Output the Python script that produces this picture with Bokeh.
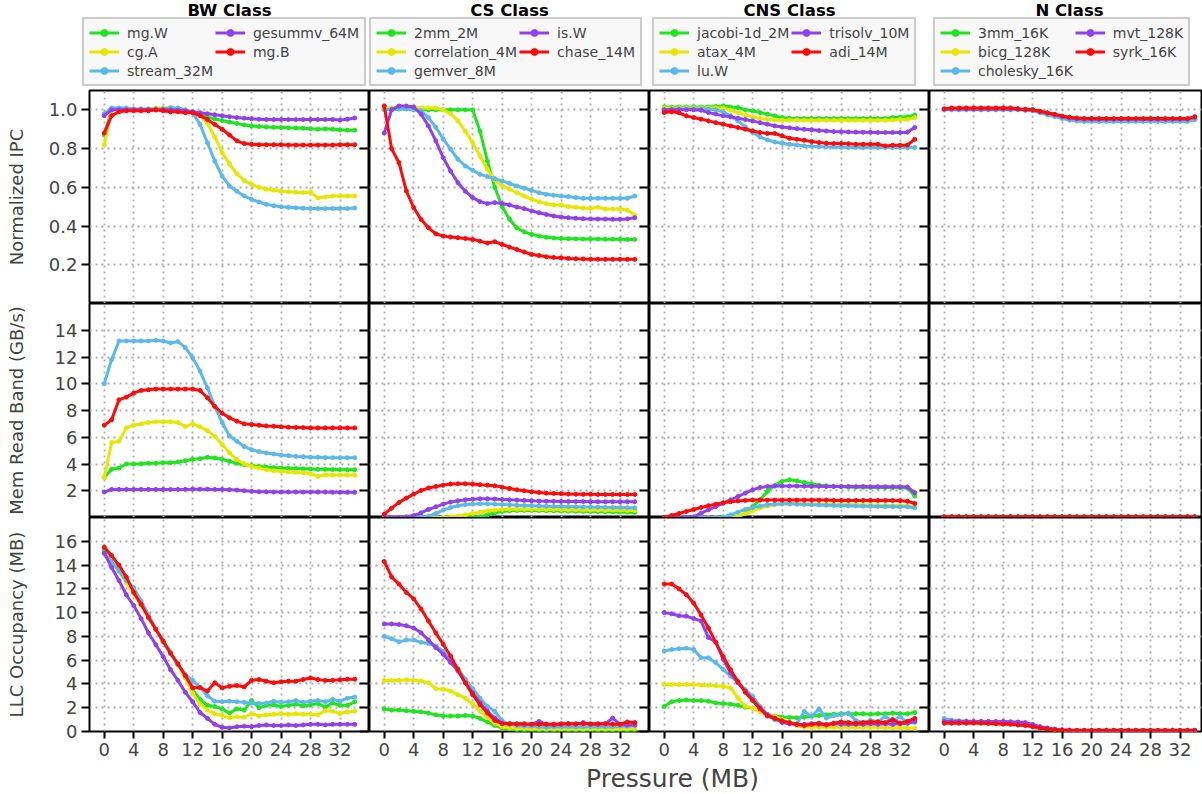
from bokeh.plotting import figure
from bokeh.models import (LinearAxis, FixedTicker, Legend, LegendItem, Range1d,
                          Label, ColumnDataSource, PrintfTickFormatter, CustomJSTickFormatter)
from bokeh.layouts import column, row
from bokeh.embed import file_html
from bokeh.resources import INLINE

FONT = "DejaVu Sans"

pressure = list(range(35))
x_ticks = [0, 4, 8, 12, 16, 20, 24, 28, 32]
ipc_ticks = [0.2, 0.4, 0.6, 0.8, 1.0]
band_ticks = [2, 4, 6, 8, 10, 12, 14]
llc_ticks = [0, 2, 4, 6, 8, 10, 12, 14, 16]

class_titles = ["BW Class", "CS Class", "CNS Class", "N Class"]
row_labels = ["Normalized IPC", "Mem Read Band (GB/s)", "LLC Occupancy (MB)"]
x_label = "Pressure (MB)"
series_colors = ["#1ee61e", "#e6e600", "#5ab9eb", "#9040ee", "#ff0a0a"]

bw_names = ["mg.W", "cg.A", "stream_32M", "gesummv_64M", "mg.B"]
cs_names = ["2mm_2M", "correlation_4M", "gemver_8M", "is.W", "chase_14M"]
cns_names = ["jacobi-1d_2M", "atax_4M", "lu.W", "trisolv_10M", "adi_14M"]
n_names = ["3mm_16K", "bicg_128K", "cholesky_16K", "mvt_128K", "syrk_16K"]

# ---------------- Normalized IPC ----------------
BW_IPC = {
    "mg.W": [0.87, 1.0, 1.0, 1.0, 1.0, 1.0, 1.0, 1.0, 1.005, 1.01, 1.005, 0.995, 0.99, 0.98, 0.962,
             0.953, 0.945, 0.937, 0.93, 0.922, 0.917, 0.914, 0.912, 0.91, 0.909, 0.907, 0.906, 0.905,
             0.903, 0.90, 0.902, 0.90, 0.897, 0.895, 0.895],
    "cg.A": [0.82, 1.0, 1.005, 1.005, 1.005, 1.005, 1.005, 1.01, 1.01, 1.01, 1.005, 1.0, 0.99, 0.97, 0.93,
             0.86, 0.78, 0.72, 0.67, 0.635, 0.615, 0.60, 0.59, 0.585, 0.58, 0.577, 0.575, 0.573, 0.575,
             0.545, 0.55, 0.555, 0.555, 0.555, 0.555],
    "stream_32M": [0.98, 1.01, 1.01, 1.01, 1.005, 1.005, 1.005, 1.005, 1.005, 1.01, 1.01, 1.0, 0.986,
                   0.926, 0.83, 0.736, 0.658, 0.607, 0.58, 0.555, 0.538, 0.524, 0.512, 0.505, 0.50,
                   0.497, 0.494, 0.492, 0.49, 0.49, 0.49, 0.49, 0.49, 0.49, 0.493],
    "gesummv_64M": [0.97, 1.0, 1.0, 1.0, 1.0, 1.0, 1.0, 1.0, 1.0, 1.0, 0.998, 0.995, 0.99, 0.985, 0.98,
                    0.975, 0.97, 0.965, 0.96, 0.957, 0.954, 0.952, 0.95, 0.95, 0.95, 0.95, 0.95, 0.95,
                    0.95, 0.95, 0.95, 0.95, 0.948, 0.952, 0.958],
    "mg.B": [0.88, 0.97, 0.99, 0.995, 0.995, 0.995, 0.995, 1.0, 0.995, 0.99, 0.99, 0.985, 0.985, 0.97,
             0.95, 0.925, 0.90, 0.87, 0.84, 0.826, 0.822, 0.82, 0.82, 0.82, 0.82, 0.818, 0.818, 0.818,
             0.818, 0.818, 0.818, 0.818, 0.82, 0.82, 0.82],
}
CS_IPC = {
    "2mm_2M": [1.01, 1.0, 1.005, 1.005, 1.0, 1.0, 1.0, 1.0, 1.0, 1.0, 1.0, 1.0, 1.0, 0.89, 0.736,
               0.60, 0.50, 0.435, 0.39, 0.37, 0.357, 0.348, 0.342, 0.338, 0.336, 0.335, 0.334, 0.333,
               0.333, 0.333, 0.332, 0.332, 0.332, 0.331, 0.331],
    "correlation_4M": [1.01, 1.01, 1.015, 1.015, 1.015, 1.01, 1.01, 1.01, 1.0, 0.98, 0.943, 0.89, 0.83,
                       0.762, 0.693, 0.64, 0.607, 0.59, 0.572, 0.555, 0.538, 0.526, 0.515, 0.509, 0.509,
                       0.50, 0.497, 0.493, 0.491, 0.497, 0.488, 0.488, 0.488, 0.482, 0.457],
    "gemver_8M": [1.0, 1.005, 1.005, 1.005, 1.005, 0.995, 0.96, 0.91, 0.85, 0.797, 0.745, 0.71, 0.688,
                  0.667, 0.655, 0.645, 0.633, 0.62, 0.607, 0.595, 0.584, 0.572, 0.564, 0.559, 0.555,
                  0.552, 0.547, 0.543, 0.543, 0.543, 0.543, 0.543, 0.543, 0.543, 0.555],
    "is.W": [0.88, 1.0, 1.02, 1.02, 1.015, 0.978, 0.917, 0.84, 0.753, 0.684, 0.624, 0.58, 0.547, 0.526,
             0.516, 0.521, 0.516, 0.509, 0.498, 0.49, 0.478, 0.469, 0.46, 0.452, 0.447, 0.443, 0.44,
             0.438, 0.437, 0.436, 0.436, 0.435, 0.435, 0.437, 0.443],
    "chase_14M": [1.02, 0.80, 0.727, 0.581, 0.495, 0.434, 0.391, 0.36, 0.348, 0.343, 0.34, 0.336, 0.331,
                  0.322, 0.312, 0.319, 0.305, 0.291, 0.279, 0.266, 0.253, 0.248, 0.241, 0.238, 0.236,
                  0.233, 0.231, 0.23, 0.229, 0.229, 0.228, 0.228, 0.228, 0.228, 0.228],
}
CNS_IPC = {
    "jacobi-1d_2M": [1.015, 1.015, 1.015, 1.015, 1.015, 1.015, 1.015, 1.018, 1.02, 1.015, 1.012, 1.0,
                     0.995, 0.986, 0.978, 0.969, 0.96, 0.957, 0.955, 0.955, 0.955, 0.955, 0.955, 0.955,
                     0.955, 0.955, 0.955, 0.955, 0.955, 0.955, 0.955, 0.96, 0.962, 0.964, 0.974],
    "atax_4M": [1.01, 1.01, 1.01, 1.01, 1.01, 1.01, 1.01, 1.01, 1.009, 0.998, 0.986, 0.974, 0.964, 0.955,
                0.952, 0.948, 0.947, 0.947, 0.947, 0.946, 0.946, 0.946, 0.946, 0.946, 0.946, 0.946,
                0.946, 0.946, 0.946, 0.946, 0.946, 0.948, 0.95, 0.95, 0.96],
    "lu.W": [1.0, 1.005, 1.005, 1.005, 1.005, 1.005, 1.005, 1.0, 0.99, 0.969, 0.943, 0.912, 0.883, 0.86,
             0.845, 0.834, 0.828, 0.822, 0.819, 0.814, 0.812, 0.81, 0.809, 0.808, 0.807, 0.806, 0.806,
             0.805, 0.805, 0.805, 0.805, 0.805, 0.805, 0.805, 0.806],
    "trisolv_10M": [1.0, 1.0, 1.0, 1.0, 1.0, 0.998, 0.986, 0.978, 0.969, 0.964, 0.957, 0.95, 0.943, 0.934,
                    0.926, 0.917, 0.912, 0.907, 0.903, 0.90, 0.897, 0.893, 0.891, 0.888, 0.887, 0.886,
                    0.885, 0.884, 0.884, 0.883, 0.883, 0.883, 0.883, 0.885, 0.909],
    "adi_14M": [0.986, 0.99, 0.985, 0.969, 0.96, 0.952, 0.943, 0.934, 0.926, 0.917, 0.909, 0.90, 0.891,
                0.883, 0.878, 0.878, 0.866, 0.853, 0.848, 0.843, 0.836, 0.831, 0.828, 0.826, 0.826,
                0.825, 0.822, 0.822, 0.822, 0.822, 0.814, 0.817, 0.817, 0.818, 0.848],
}
N_IPC = {
    "3mm_16K": [1.0, 1.005, 1.005, 1.005, 1.005, 1.005, 1.005, 1.005, 1.005, 1.005, 1.005, 1.0, 1.0,
                0.99, 0.98, 0.97, 0.96, 0.952, 0.947, 0.945, 0.945, 0.945, 0.945, 0.945, 0.945, 0.945,
                0.945, 0.945, 0.945, 0.945, 0.945, 0.945, 0.945, 0.945, 0.95],
    "bicg_128K": [1.0, 1.005, 1.005, 1.005, 1.005, 1.005, 1.005, 1.005, 1.005, 1.005, 1.005, 1.0, 1.0,
                  0.99, 0.98, 0.97, 0.962, 0.955, 0.95, 0.948, 0.948, 0.948, 0.948, 0.948, 0.948, 0.948,
                  0.948, 0.948, 0.948, 0.948, 0.948, 0.948, 0.948, 0.948, 0.955],
    "cholesky_16K": [1.0, 1.0, 1.0, 1.0, 1.0, 1.0, 1.0, 1.0, 1.0, 1.0, 1.0, 0.998, 0.995, 0.985, 0.975,
                     0.965, 0.955, 0.947, 0.942, 0.94, 0.94, 0.94, 0.94, 0.94, 0.94, 0.94, 0.94, 0.94,
                     0.94, 0.94, 0.94, 0.94, 0.94, 0.94, 0.95],
    "mvt_128K": [1.005, 1.005, 1.005, 1.005, 1.005, 1.005, 1.005, 1.005, 1.005, 1.005, 1.005, 1.0, 1.0,
                 0.992, 0.983, 0.975, 0.966, 0.958, 0.954, 0.952, 0.952, 0.952, 0.952, 0.952, 0.952,
                 0.952, 0.952, 0.952, 0.952, 0.952, 0.952, 0.952, 0.952, 0.952, 0.962],
    "syrk_16K": [1.005, 1.01, 1.01, 1.01, 1.01, 1.01, 1.01, 1.01, 1.01, 1.01, 1.005, 1.003, 1.0, 0.993,
                 0.985, 0.977, 0.968, 0.962, 0.958, 0.956, 0.955, 0.955, 0.955, 0.955, 0.955, 0.955,
                 0.955, 0.955, 0.955, 0.955, 0.955, 0.955, 0.955, 0.955, 0.965],
}

# ---------------- Memory read bandwidth (GB/s) ----------------
BW_BAND = {
    "mg.W": [3.0, 3.6, 3.7, 4.0, 4.0, 4.02, 4.05, 4.05, 4.1, 4.1, 4.15, 4.25, 4.35, 4.4, 4.5, 4.45, 4.35,
             4.2, 4.05, 3.95, 3.88, 3.82, 3.77, 3.73, 3.7, 3.68, 3.66, 3.64, 3.62, 3.6, 3.6, 3.58, 3.58,
             3.57, 3.57],
    "cg.A": [3.0, 5.6, 5.7, 6.7, 6.9, 7.0, 7.1, 7.15, 7.15, 7.15, 7.1, 6.8, 7.0, 6.78, 6.5, 6.07, 5.45,
             4.82, 4.32, 4.02, 3.82, 3.7, 3.57, 3.5, 3.45, 3.4, 3.37, 3.35, 3.27, 3.07, 3.2, 3.17, 3.17,
             3.17, 3.17],
    "stream_32M": [10.0, 11.8, 13.2, 13.2, 13.2, 13.2, 13.2, 13.25, 13.2, 13.05, 13.15, 12.7, 11.95,
                   10.95, 9.7, 8.3, 7.1, 6.1, 5.7, 5.3, 5.07, 4.93, 4.82, 4.75, 4.67, 4.62, 4.57, 4.55,
                   4.5, 4.5, 4.48, 4.47, 4.47, 4.47, 4.47],
    "gesummv_64M": [1.9, 2.1, 2.1, 2.1, 2.1, 2.1, 2.1, 2.1, 2.1, 2.1, 2.1, 2.1, 2.12, 2.12, 2.12, 2.1,
                    2.1, 2.08, 2.05, 2.0, 1.96, 1.93, 1.92, 1.91, 1.9, 1.9, 1.9, 1.9, 1.9, 1.9, 1.9,
                    1.88, 1.88, 1.88, 1.88],
    "mg.B": [6.9, 7.3, 8.8, 9.0, 9.3, 9.5, 9.55, 9.6, 9.6, 9.6, 9.6, 9.6, 9.6, 9.5, 8.95, 8.3, 7.8, 7.45,
             7.2, 7.0, 6.95, 6.9, 6.85, 6.82, 6.78, 6.75, 6.73, 6.72, 6.7, 6.7, 6.7, 6.7, 6.7, 6.7, 6.7],
}
CS_BAND = {
    "2mm_2M": [0.0, 0.0, 0.0, 0.0, 0.0, 0.0, 0.0, 0.0, 0.0, 0.0, 0.0, 0.0, 0.02, 0.05, 0.2, 0.35, 0.45,
               0.5, 0.52, 0.53, 0.53, 0.52, 0.51, 0.5, 0.49, 0.48, 0.47, 0.46, 0.45, 0.44, 0.43, 0.42,
               0.41, 0.4, 0.38],
    "correlation_4M": [0.0, 0.0, 0.0, 0.0, 0.0, 0.0, 0.0, 0.0, 0.02, 0.05, 0.1, 0.2, 0.3, 0.4, 0.5,
                       0.55, 0.6, 0.62, 0.62, 0.62, 0.62, 0.61, 0.6, 0.6, 0.59, 0.58, 0.58, 0.57, 0.56,
                       0.56, 0.55, 0.55, 0.54, 0.53, 0.52],
    "gemver_8M": [0.0, 0.0, 0.0, 0.0, 0.0, 0.02, 0.1, 0.3, 0.55, 0.75, 0.88, 0.97, 1.0, 1.02, 1.02, 1.0,
                  0.98, 0.95, 0.92, 0.9, 0.88, 0.86, 0.84, 0.83, 0.82, 0.81, 0.8, 0.79, 0.78, 0.77,
                  0.76, 0.75, 0.74, 0.73, 0.72],
    "is.W": [0.0, 0.0, 0.0, 0.05, 0.15, 0.35, 0.6, 0.8, 1.0, 1.15, 1.25, 1.32, 1.37, 1.4, 1.4, 1.38,
             1.35, 1.32, 1.3, 1.28, 1.25, 1.23, 1.22, 1.21, 1.2, 1.2, 1.19, 1.19, 1.18, 1.18, 1.18,
             1.18, 1.18, 1.18, 1.18],
    "chase_14M": [0.25, 0.7, 1.12, 1.45, 1.75, 2.02, 2.2, 2.32, 2.42, 2.5, 2.52, 2.52, 2.5, 2.45, 2.42,
                  2.37, 2.27, 2.17, 2.07, 2.0, 1.92, 1.87, 1.82, 1.8, 1.78, 1.75, 1.74, 1.73, 1.73,
                  1.72, 1.72, 1.72, 1.72, 1.72, 1.72],
}
CNS_BAND = {
    "jacobi-1d_2M": [0.0, 0.0, 0.0, 0.0, 0.0, 0.0, 0.0, 0.0, 0.0, 0.0, 0.05, 0.3, 0.82, 1.32, 1.95, 2.4,
                     2.7, 2.82, 2.75, 2.62, 2.52, 2.42, 2.37, 2.33, 2.3, 2.28, 2.27, 2.26, 2.25, 2.25,
                     2.24, 2.24, 2.23, 2.2, 1.6],
    "atax_4M": [0.0, 0.0, 0.0, 0.0, 0.0, 0.0, 0.0, 0.0, 0.0, 0.0, 0.1, 0.3, 0.5, 0.7, 0.85, 0.95, 1.0,
                1.02, 1.02, 1.02, 1.01, 1.0, 0.99, 0.98, 0.97, 0.96, 0.95, 0.94, 0.93, 0.92, 0.91, 0.9,
                0.89, 0.88, 0.8],
    "lu.W": [0.0, 0.0, 0.0, 0.0, 0.0, 0.0, 0.0, 0.0, 0.05, 0.2, 0.4, 0.6, 0.75, 0.85, 0.95, 1.0, 1.02,
             1.02, 1.0, 0.98, 0.96, 0.94, 0.92, 0.9, 0.88, 0.87, 0.86, 0.85, 0.84, 0.83, 0.82, 0.81, 0.8,
             0.8, 0.72],
    "trisolv_10M": [0.0, 0.0, 0.0, 0.0, 0.05, 0.32, 0.57, 0.82, 1.07, 1.32, 1.57, 1.82, 2.07, 2.25, 2.32,
                    2.35, 2.35, 2.35, 2.35, 2.34, 2.33, 2.33, 2.32, 2.32, 2.32, 2.32, 2.31, 2.31, 2.3,
                    2.3, 2.3, 2.3, 2.3, 2.28, 1.85],
    "adi_14M": [0.0, 0.15, 0.3, 0.45, 0.6, 0.75, 0.88, 1.0, 1.1, 1.18, 1.24, 1.28, 1.3, 1.3, 1.3, 1.3, 1.3,
                1.3, 1.3, 1.3, 1.3, 1.3, 1.3, 1.28, 1.28, 1.28, 1.28, 1.28, 1.28, 1.28, 1.28, 1.27, 1.26,
                1.22, 1.05],
}
N_BAND = {
    "3mm_16K": [0.05, 0.05, 0.05, 0.05, 0.05, 0.05, 0.05, 0.05, 0.05, 0.05, 0.05, 0.05, 0.05, 0.05, 0.05,
                0.05, 0.05, 0.05, 0.05, 0.05, 0.05, 0.05, 0.05, 0.05, 0.05, 0.05, 0.05, 0.05, 0.05, 0.05,
                0.05, 0.05, 0.05, 0.05, 0.05],
    "bicg_128K": [0.06, 0.06, 0.06, 0.06, 0.06, 0.06, 0.06, 0.06, 0.06, 0.06, 0.06, 0.06, 0.06, 0.06,
                  0.06, 0.06, 0.06, 0.06, 0.06, 0.06, 0.06, 0.06, 0.06, 0.06, 0.06, 0.06, 0.06, 0.06,
                  0.06, 0.06, 0.06, 0.06, 0.06, 0.06, 0.06],
    "cholesky_16K": [0.05, 0.05, 0.05, 0.05, 0.05, 0.05, 0.05, 0.05, 0.05, 0.05, 0.05, 0.05, 0.05, 0.05,
                     0.05, 0.05, 0.05, 0.05, 0.05, 0.05, 0.05, 0.05, 0.05, 0.05, 0.05, 0.05, 0.05, 0.05,
                     0.05, 0.05, 0.05, 0.05, 0.05, 0.05, 0.05],
    "mvt_128K": [0.04, 0.04, 0.04, 0.04, 0.04, 0.04, 0.04, 0.04, 0.04, 0.04, 0.04, 0.04, 0.04, 0.04, 0.04,
                 0.04, 0.04, 0.04, 0.04, 0.04, 0.04, 0.04, 0.04, 0.04, 0.04, 0.04, 0.04, 0.04, 0.04, 0.04,
                 0.04, 0.04, 0.04, 0.04, 0.04],
    "syrk_16K": [0.05, 0.05, 0.05, 0.05, 0.05, 0.05, 0.05, 0.05, 0.05, 0.05, 0.05, 0.05, 0.05, 0.05, 0.05,
                 0.05, 0.05, 0.05, 0.05, 0.05, 0.05, 0.05, 0.05, 0.05, 0.05, 0.05, 0.05, 0.05, 0.05, 0.05,
                 0.05, 0.05, 0.05, 0.05, 0.05],
}

# ---------------- LLC occupancy (MB) ----------------
BW_LLC = {
    "mg.W": [15.2, 14.5, 13.6, 12.6, 11.7, 10.7, 9.6, 8.6, 7.6, 6.6, 5.6, 4.7, 3.5, 2.7, 2.2, 2.1, 1.9,
             1.55, 1.9, 1.8, 2.6, 2.0, 2.2, 2.25, 2.1, 2.2, 2.3, 2.15, 2.25, 2.35, 2.05, 2.4, 2.2, 2.2, 2.5],
    "cg.A": [15.0, 14.4, 13.5, 12.5, 11.6, 10.6, 9.6, 8.6, 7.6, 6.6, 5.6, 4.5, 3.2, 2.3, 1.8, 1.5, 1.35,
             1.15, 1.25, 1.2, 1.5, 1.3, 1.4, 1.45, 1.5, 1.45, 1.5, 1.45, 1.45, 1.4, 1.75, 1.7, 1.5, 1.65,
             1.7],
    "stream_32M": [15.0, 14.3, 13.5, 12.7, 12.1, 11.0, 9.8, 8.6, 7.5, 6.5, 5.6, 4.8, 4.3, 3.7, 3.0, 2.55,
                   2.5, 2.55, 2.5, 2.45, 2.4, 2.35, 2.4, 2.55, 2.45, 2.5, 2.6, 2.45, 2.55, 2.6, 2.5, 2.7,
                   2.55, 2.8, 2.9],
    "gesummv_64M": [15.0, 13.8, 12.7, 11.5, 10.6, 9.5, 8.3, 7.3, 6.3, 5.2, 4.3, 3.3, 2.5, 1.6, 1.1, 0.6,
                    0.35, 0.3, 0.4, 0.45, 0.4, 0.5, 0.55, 0.5, 0.5, 0.55, 0.5, 0.55, 0.6, 0.6, 0.55, 0.6,
                    0.6, 0.6, 0.6],
    "mg.B": [15.5, 14.8, 14.0, 13.0, 11.7, 10.7, 9.6, 8.6, 7.6, 6.6, 5.7, 4.7, 3.67, 3.7, 3.4, 4.1, 3.67,
             3.8, 3.87, 3.75, 4.3, 4.37, 4.23, 4.1, 4.18, 4.23, 4.23, 4.37, 4.5, 4.37, 4.3, 4.3, 4.35, 4.4,
             4.4],
}
CS_LLC = {
    "2mm_2M": [1.9, 1.8, 1.8, 1.75, 1.7, 1.65, 1.55, 1.4, 1.3, 1.3, 1.3, 1.35, 1.3, 1.1, 0.8, 0.5, 0.3,
               0.2, 0.12, 0.08, 0.06, 0.05, 0.05, 0.05, 0.05, 0.05, 0.05, 0.05, 0.05, 0.05, 0.05, 0.05,
               0.05, 0.05, 0.05],
    "correlation_4M": [4.3, 4.3, 4.3, 4.35, 4.3, 4.25, 4.1, 3.6, 3.55, 3.4, 3.1, 2.8, 2.3, 1.7, 1.2, 0.7,
                       0.4, 0.3, 0.25, 0.25, 0.22, 0.22, 0.2, 0.2, 0.2, 0.22, 0.2, 0.2, 0.22, 0.2, 0.22,
                       0.2, 0.22, 0.22, 0.25],
    "gemver_8M": [8.0, 7.8, 7.55, 7.7, 7.7, 7.5, 7.4, 7.2, 6.75, 6.0, 5.3, 4.4, 3.6, 2.8, 2.1, 1.7, 0.9,
                  0.6, 0.5, 0.45, 0.45, 0.4, 0.35, 0.4, 0.4, 0.4, 0.38, 0.4, 0.4, 0.42, 0.4, 0.4, 0.45,
                  0.45, 0.5],
    "is.W": [9.05, 9.05, 9.0, 8.9, 8.7, 8.3, 7.7, 7.05, 6.5, 5.8, 5.1, 4.1, 3.25, 2.4, 1.7, 1.13, 0.7,
             0.65, 0.6, 0.6, 0.6, 0.85, 0.6, 0.55, 0.6, 0.65, 0.6, 0.75, 0.6, 0.6, 0.65, 1.13, 0.6, 0.55,
             0.55],
    "chase_14M": [14.3, 13.0, 12.4, 11.7, 11.15, 10.3, 9.3, 8.3, 7.34, 6.35, 5.2, 4.1, 3.1, 2.26, 1.55,
                  0.93, 0.65, 0.65, 0.65, 0.65, 0.62, 0.6, 0.62, 0.62, 0.65, 0.65, 0.65, 0.65, 0.65,
                  0.65, 0.65, 0.62, 0.62, 0.8, 0.75],
}
CNS_LLC = {
    "jacobi-1d_2M": [2.1, 2.5, 2.6, 2.65, 2.6, 2.6, 2.55, 2.4, 2.35, 2.3, 2.2, 2.05, 1.97, 1.7, 1.45, 1.3,
                     1.22, 1.18, 1.15, 1.2, 1.3, 1.35, 1.4, 1.45, 1.5, 1.5, 1.5, 1.5, 1.45, 1.5, 1.5,
                     1.55, 1.5, 1.5, 1.6],
    "atax_4M": [3.95, 3.95, 3.95, 3.95, 3.95, 3.9, 3.9, 3.85, 3.8, 3.67, 2.82, 2.12, 1.97, 1.69, 1.41,
                1.27, 0.99, 0.76, 0.48, 0.37, 0.35, 0.35, 0.35, 0.35, 0.35, 0.35, 0.35, 0.35, 0.35, 0.35,
                0.33, 0.32, 0.3, 0.3, 0.28],
    "lu.W": [6.77, 6.9, 6.97, 7.0, 6.9, 6.2, 6.2, 5.78, 5.22, 4.66, 4.15, 3.53, 2.96, 2.12, 1.41, 0.99,
             0.85, 0.65, 0.65, 1.7, 1.27, 1.89, 1.13, 1.33, 1.41, 1.55, 0.93, 0.76, 0.93, 0.85, 1.27, 0.85,
             1.27, 0.7, 0.76],
    "trisolv_10M": [10.0, 9.9, 9.73, 9.7, 9.5, 9.3, 7.9, 7.5, 6.07, 4.94, 4.1, 3.4, 2.68, 1.97, 1.41,
                    1.13, 0.76, 0.65, 0.6, 0.6, 0.65, 0.6, 0.6, 0.65, 0.6, 0.6, 0.6, 0.6, 0.65, 0.6,
                    0.65, 0.6, 0.65, 0.7, 0.85],
    "adi_14M": [12.4, 12.4, 12.0, 11.5, 10.8, 9.8, 8.7, 7.5, 6.3, 5.2, 4.2, 3.3, 2.6, 1.9, 1.3, 1.1, 0.9,
                0.75, 0.6, 0.5, 0.6, 0.7, 0.55, 0.7, 0.8, 0.75, 0.7, 0.75, 0.8, 0.8, 0.75, 1.0, 0.7, 0.85,
                1.1],
}
N_LLC = {
    "3mm_16K": [1.0, 0.9, 0.85, 0.8, 0.8, 0.8, 0.78, 0.75, 0.75, 0.72, 0.7, 0.65, 0.5, 0.35, 0.25, 0.18,
                0.12, 0.1, 0.1, 0.1, 0.1, 0.1, 0.1, 0.1, 0.1, 0.1, 0.1, 0.1, 0.1, 0.1, 0.1, 0.1, 0.1, 0.1,
                0.1],
    "bicg_128K": [0.9, 0.85, 0.8, 0.78, 0.78, 0.76, 0.75, 0.73, 0.72, 0.7, 0.68, 0.6, 0.45, 0.32, 0.22,
                  0.15, 0.1, 0.08, 0.08, 0.08, 0.08, 0.08, 0.08, 0.08, 0.08, 0.08, 0.08, 0.08, 0.08, 0.08,
                  0.08, 0.08, 0.08, 0.08, 0.08],
    "cholesky_16K": [1.1, 0.95, 0.9, 0.88, 0.85, 0.85, 0.83, 0.8, 0.8, 0.78, 0.75, 0.68, 0.52, 0.38, 0.26,
                     0.18, 0.12, 0.1, 0.1, 0.1, 0.1, 0.1, 0.1, 0.1, 0.1, 0.1, 0.1, 0.1, 0.1, 0.1, 0.1,
                     0.1, 0.1, 0.1, 0.1],
    "mvt_128K": [0.85, 0.85, 0.85, 0.85, 0.85, 0.85, 0.85, 0.85, 0.85, 0.82, 0.8, 0.75, 0.6, 0.4, 0.3,
                 0.2, 0.15, 0.12, 0.1, 0.1, 0.1, 0.1, 0.1, 0.1, 0.1, 0.1, 0.1, 0.1, 0.1, 0.1, 0.1, 0.1,
                 0.1, 0.1, 0.1],
    "syrk_16K": [0.7, 0.7, 0.7, 0.7, 0.72, 0.7, 0.68, 0.65, 0.62, 0.6, 0.55, 0.5, 0.4, 0.3, 0.2, 0.15,
                 0.1, 0.08, 0.08, 0.08, 0.08, 0.08, 0.08, 0.08, 0.08, 0.08, 0.08, 0.08, 0.08, 0.08, 0.08,
                 0.08, 0.08, 0.08, 0.08],
}

class_names = [bw_names, cs_names, cns_names, n_names]
grid_data = [
    [BW_IPC, CS_IPC, CNS_IPC, N_IPC],
    [BW_BAND, CS_BAND, CNS_BAND, N_BAND],
    [BW_LLC, CS_LLC, CNS_LLC, N_LLC],
]
for r in grid_data:
    for d in r:
        for k, v in d.items():
            assert len(v) == len(pressure), (k, len(v))

# ---------------- layout constants (Bokeh's page template has no body margin) ----------------
FRAME_W = [280, 280, 280, 273]
X_END = [36, 36, 36, 35.05]
ROW_H = [213, 214, 214]
Y_RANGES = [(0.0, 1.1), (0.0, 16.0), (0.0, 18.0)]
Y_TICKS = [ipc_ticks, band_ticks, llc_ticks]
Y_FMT = ["%.1f", "%d", "%d"]
LABEL_STANDOFF = [19, 25, 25]
LEGEND_X = [82, 0, 3, 4]
TITLE_X = [229, 140, 140, 140]
HEADER_H = 88
LEFT_BORDER = 89
TOP_BORDER = 2
BOTTOM_BORDER = 31
LABEL_H = 32


def make_header(c):
    w = FRAME_W[c] + (LEFT_BORDER if c == 0 else 0)
    h = figure(width=w, height=HEADER_H, x_range=Range1d(-2, X_END[c]), y_range=Range1d(*Y_RANGES[0]),
               x_axis_location=None, y_axis_location=None, toolbar_location=None,
               output_backend="svg", min_border=0)
    h.title = None
    h.outline_line_color = None
    h.xgrid.visible = False
    h.ygrid.visible = False
    items = []
    for name, color in zip(class_names[c], series_colors):
        src = ColumnDataSource(dict(x=pressure, y=grid_data[0][c][name]))
        ln = h.line("x", "y", source=src, line_color=color, line_width=3, visible=False)
        sc = h.scatter("x", "y", source=src, marker="circle", size=4,
                       fill_color=color, line_color=color, visible=False)
        items.append(LegendItem(label=name, renderers=[ln, sc]))
    leg = Legend(items=items, ncols=2, orientation="vertical", location=(LEGEND_X[c], 2),
                 label_text_font=FONT, label_text_font_size="14px",
                 glyph_width=30, glyph_height=17, label_height=17, label_standoff=8,
                 spacing=2, padding=5, margin=0,
                 border_line_color="#a0a0a0", border_line_width=2,
                 background_fill_color="#f8f8f8", background_fill_alpha=1.0,
                 inactive_fill_alpha=0.0)
    h.add_layout(leg, "center")
    h.add_layout(Label(x=TITLE_X[c], y=HEADER_H - 10, x_units="screen", y_units="screen",
                       text=class_titles[c], text_align="center", text_baseline="middle",
                       text_font=FONT, text_font_size="16.5px", text_font_style="bold",
                       text_color="black"))
    return h


def make_panel(r, c):
    left = LEFT_BORDER if c == 0 else 0
    top = TOP_BORDER if r == 0 else 0
    bottom = BOTTOM_BORDER if r == 2 else 0
    p = figure(width=FRAME_W[c] + left, height=ROW_H[r] + top + bottom,
               x_range=Range1d(-2, X_END[c]), y_range=Range1d(*Y_RANGES[r]),
               x_axis_location=None, y_axis_location=None,
               toolbar_location=None, output_backend="svg",
               min_border=0, min_border_left=left, min_border_right=0,
               min_border_top=top, min_border_bottom=bottom)
    p.title = None
    p.outline_line_color = "black"
    p.outline_line_width = 2
    p.background_fill_color = "white"
    p.border_fill_color = "white"
    p.xgrid.ticker = FixedTicker(ticks=x_ticks)
    p.ygrid.ticker = FixedTicker(ticks=Y_TICKS[r])
    for g in (p.xgrid, p.ygrid):
        g.grid_line_color = "#ababab"
        g.grid_line_dash = "2 4"
        g.grid_line_width = 1.8

    data = grid_data[r][c]
    for name, color in zip(class_names[c], series_colors):
        src = ColumnDataSource(dict(x=pressure, y=data[name]))
        p.line("x", "y", source=src, line_color=color, line_width=3)
        p.scatter("x", "y", source=src, marker="circle", size=4,
                  fill_color=color, line_color=color)

    if c == 0:
        la = LinearAxis(ticker=FixedTicker(ticks=Y_TICKS[r]),
                        formatter=PrintfTickFormatter(format=Y_FMT[r]),
                        axis_label=row_labels[r],
                        axis_label_text_font=FONT, axis_label_text_font_size="18px",
                        axis_label_text_font_style="normal",
                        axis_label_standoff=LABEL_STANDOFF[r],
                        major_label_text_font=FONT, major_label_text_font_size="18px",
                        major_label_standoff=4,
                        major_tick_out=8, major_tick_in=0, major_tick_line_width=2,
                        minor_tick_line_color=None, axis_line_color=None)
        p.add_layout(la, "left")
    if c < 3:
        ra = LinearAxis(ticker=FixedTicker(ticks=Y_TICKS[r]),
                        formatter=CustomJSTickFormatter(code="return ''"),
                        major_tick_in=10, major_tick_out=0, major_tick_line_width=2,
                        major_label_standoff=0,
                        minor_tick_line_color=None, axis_line_color=None)
        p.add_layout(ra, "right")
    if r == 2:
        ba = LinearAxis(ticker=FixedTicker(ticks=x_ticks),
                        major_label_text_font=FONT, major_label_text_font_size="18px",
                        major_label_standoff=4,
                        major_tick_out=7, major_tick_in=0, major_tick_line_width=2,
                        minor_tick_line_color=None, axis_line_color=None)
        p.add_layout(ba, "below")
    return p


header = row(*[make_header(c) for c in range(4)], spacing=0)
rows = []
for r in range(3):
    rows.append(row(*[make_panel(r, c) for c in range(4)], spacing=0))

total_w = LEFT_BORDER + sum(FRAME_W)
lab = figure(width=total_w, height=LABEL_H, x_range=Range1d(0, total_w), y_range=Range1d(0, LABEL_H),
             toolbar_location=None, output_backend="svg", min_border=0,
             x_axis_location=None, y_axis_location=None)
lab.title = None
lab.outline_line_color = None
lab.xgrid.visible = False
lab.ygrid.visible = False
lab.add_layout(Label(x=672, y=LABEL_H / 2, text=x_label, text_align="center", text_baseline="middle",
                     text_font=FONT, text_font_size="25px"))

layout = column(header, *rows, lab, spacing=0)
open("out.html", "w").write(file_html(layout, INLINE, title="pressure"))
